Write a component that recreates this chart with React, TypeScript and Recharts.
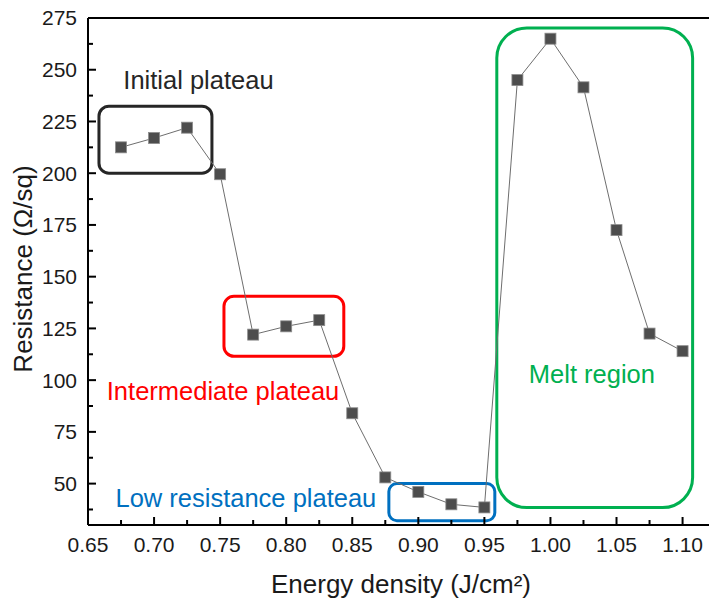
import React from 'react';
import {
  LineChart, Line, XAxis, YAxis, ReferenceArea, ReferenceLine, ReferenceDot,
} from 'recharts';

// energy density (J/cm²) and sheet resistance (Ω/sq)
const ENERGY = [0.675, 0.7, 0.725, 0.75, 0.775, 0.8, 0.825, 0.85, 0.875, 0.9, 0.925, 0.95, 0.975, 1.0, 1.025, 1.05, 1.075, 1.1];
const RESISTANCE = [212.5, 217, 222, 199.5, 122, 126, 129, 84, 53, 46, 40, 38.5, 245, 265, 241.5, 172.5, 122.5, 114];

const X_TICKS = [0.65, 0.675, 0.7, 0.725, 0.75, 0.775, 0.8, 0.825, 0.85, 0.875, 0.9, 0.925, 0.95, 0.975, 1.0, 1.025, 1.05, 1.075, 1.1];
const X_LABELED = [0.65, 0.7, 0.75, 0.8, 0.85, 0.9, 0.95, 1.0, 1.05, 1.1];
const Y_TICKS = [37.5, 50, 62.5, 75, 87.5, 100, 112.5, 125, 137.5, 150, 162.5, 175, 187.5, 200, 212.5, 225, 237.5, 250, 262.5, 275];
const Y_LABELED = [50, 75, 100, 125, 150, 175, 200, 225, 250, 275];

// annotation boxes: [x1, x2, y1, y2] in data units
const BOX_INITIAL = [0.6583, 0.7438, 200, 232.4];
const BOX_INTERMEDIATE = [0.7529, 0.8436, 111.5, 140.5];
const BOX_LOW = [0.8777, 0.9579, 32.1, 50];
const BOX_MELT = [0.9594, 1.1076, 38.4, 270.2];

const data = ENERGY.map((e, i) => ({ e, r: RESISTANCE[i] }));

const FONT = 'Liberation Sans, Arial, sans-serif';
const AXIS_Y = 525;

const XTick = (props: any) => {
  const { x, y, payload } = props;
  const v = payload.value;
  const major = X_LABELED.some((t) => Math.abs(t - v) < 1e-6);
  return (
    <g>
      <line x1={x} x2={x} y1={AXIS_Y} y2={AXIS_Y - (major ? 8 : 5)} stroke="#000" strokeWidth={2} />
      {major && (
        <text x={x} y={y} dy="0.71em" textAnchor="middle" fontSize={21} fill="#1a1a1a" fontFamily={FONT}>
          {v.toFixed(2)}
        </text>
      )}
    </g>
  );
};

const YTick = (props: any) => {
  const { x, y, payload } = props;
  const v = payload.value;
  const major = Y_LABELED.includes(v);
  const ax = x + 11;
  return (
    <g>
      <line x1={ax} x2={ax + (major ? 8 : 5)} y1={y} y2={y} stroke="#000" strokeWidth={2} />
      {major && (
        <text x={x} y={y} dy="0.355em" textAnchor="end" fontSize={21} fill="#1a1a1a" fontFamily={FONT}>
          {v}
        </text>
      )}
    </g>
  );
};

const SquareDot = (props: any) => {
  const { cx, cy } = props;
  return <rect x={cx - 5.5} y={cy - 5.5} width={11} height={11} fill="#4d4d4d" stroke="#8c8c8c" strokeWidth={0.8} />;
};

const roundBox = (color: string, r: number) => (props: any) => {
  const { x, y, width, height } = props;
  return <rect x={x} y={y} width={width} height={height} rx={r} ry={r} fill="none" stroke={color} strokeWidth={3} />;
};

const note = (text: string, color: string) => (props: any) => (
  <text x={props.cx} y={props.cy} textAnchor="middle" fontSize={25.5} fill={color} fontFamily={FONT}>
    {text}
  </text>
);

export default function App() {
  return (
    <div style={{ position: 'absolute', left: 0, top: 0, width: 709, height: 605, background: '#fff' }}>
      <LineChart width={709} height={605} data={data} margin={{ top: 18, right: 0, left: 0, bottom: 0 }}>
        <XAxis
          dataKey="e"
          type="number"
          domain={[0.65, 1.12]}
          ticks={X_TICKS}
          interval={0}
          height={80}
          tickSize={0}
          tickMargin={12}
          tick={<XTick />}
          axisLine={{ stroke: '#000', strokeWidth: 2 }}
          tickLine={false}
        />
        <YAxis
          type="number"
          domain={[30, 275]}
          ticks={Y_TICKS}
          interval={0}
          width={88}
          tickSize={0}
          tickMargin={11}
          tick={<YTick />}
          axisLine={{ stroke: '#000', strokeWidth: 2 }}
          tickLine={false}
        />
        <ReferenceLine y={275} stroke="#000" strokeWidth={2} />
        <ReferenceArea x1={BOX_INITIAL[0]} x2={BOX_INITIAL[1]} y1={BOX_INITIAL[2]} y2={BOX_INITIAL[3]} shape={roundBox('#262626', 10)} ifOverflow="visible" />
        <ReferenceArea x1={BOX_INTERMEDIATE[0]} x2={BOX_INTERMEDIATE[1]} y1={BOX_INTERMEDIATE[2]} y2={BOX_INTERMEDIATE[3]} shape={roundBox('#ff0000', 10)} ifOverflow="visible" />
        <ReferenceArea x1={BOX_LOW[0]} x2={BOX_LOW[1]} y1={BOX_LOW[2]} y2={BOX_LOW[3]} shape={roundBox('#0070c0', 8)} ifOverflow="visible" />
        <ReferenceArea x1={BOX_MELT[0]} x2={BOX_MELT[1]} y1={BOX_MELT[2]} y2={BOX_MELT[3]} shape={roundBox('#00b050', 30)} ifOverflow="visible" />
        <ReferenceDot x={0.7336} y={240.7} r={0} shape={note('Initial plateau', '#262626')} ifOverflow="visible" />
        <ReferenceDot x={0.7522} y={90.4} r={0} shape={note('Intermediate plateau', '#ff0000')} ifOverflow="visible" />
        <ReferenceDot x={0.7695} y={38.7} r={0} shape={note('Low resistance plateau', '#0070c0')} ifOverflow="visible" />
        <ReferenceDot x={1.0314} y={98.6} r={0} shape={note('Melt region', '#00b050')} ifOverflow="visible" />
        <Line
          dataKey="r"
          stroke="#6e6e6e"
          strokeWidth={1}
          dot={<SquareDot />}
          activeDot={false}
          isAnimationActive={false}
        />
      </LineChart>
      <div
        style={{
          position: 'absolute', left: 23, top: 269, transform: 'translate(-50%, -50%) rotate(-90deg)',
          fontFamily: FONT, fontSize: 26, color: '#1a1a1a', whiteSpace: 'nowrap',
        }}
      >
        Resistance (Ω/sq)
      </div>
      <div
        style={{
          position: 'absolute', left: 401, top: 584, transform: 'translate(-50%, -50%)',
          fontFamily: FONT, fontSize: 26, color: '#1a1a1a', whiteSpace: 'nowrap',
        }}
      >
        Energy density (J/cm²)
      </div>
    </div>
  );
}
